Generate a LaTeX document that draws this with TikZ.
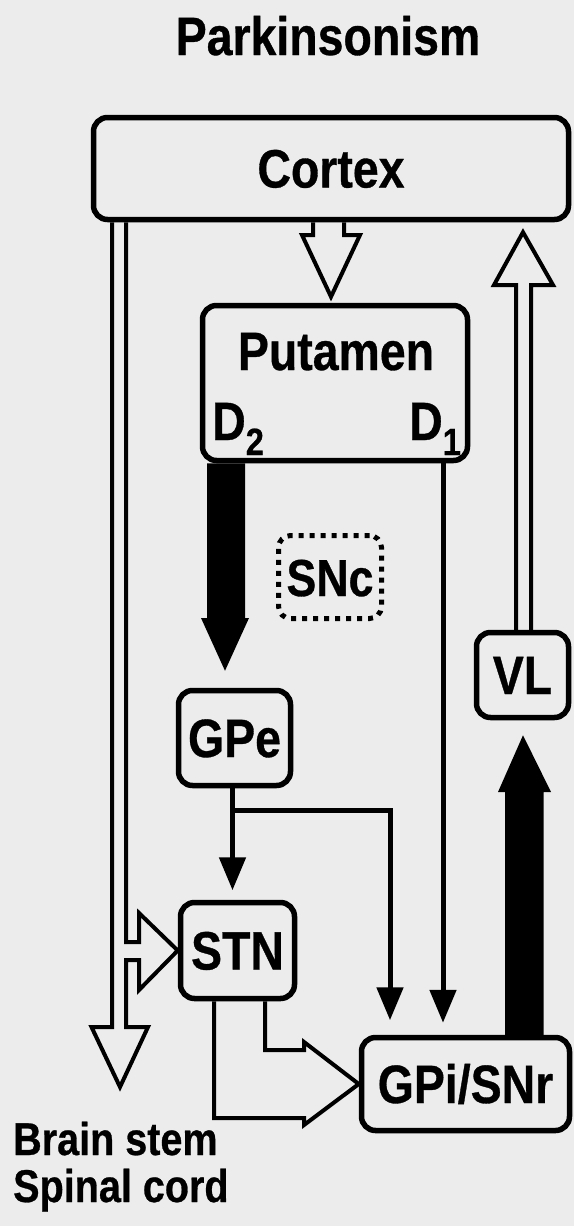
\documentclass[tikz,border=0pt]{standalone}
\usepackage{fontspec}
\setmainfont{Liberation Sans}[FakeStretch=0.86, BoldFeatures={FakeBold=0.6}]
\usetikzlibrary{positioning,calc,arrows.meta}
\definecolor{paper}{gray}{0.925}

\begin{document}
\begin{tikzpicture}[x=1pt, y=-1pt,
    region/.style={draw, line width=5.5pt, rounded corners=14pt, inner sep=0pt,
        font=\fontsize{54}{54}\selectfont\bfseries, text height=38pt, text depth=0pt},
    snbox/.style={region, line width=5pt, dash pattern=on 5pt off 6pt, rounded corners=12pt,
        font=\fontsize{52}{52}\selectfont\bfseries},
    lbl/.style={font=\fontsize{54}{54}\selectfont\bfseries, inner sep=0pt},
    outlbl/.style={font=\fontsize{46}{46}\selectfont\bfseries, inner sep=0pt, anchor=base west},
    hollow/.style={draw, line width=4pt, line join=miter},
    blackarrow/.style={fill=black},
    conn/.style={draw, line width=5pt, -{Triangle[length=33pt, width=26pt]}}]

    \path[use as bounding box, fill=paper] (0,0) rectangle (574,1226);

    % title and outputs
    \node[lbl, anchor=base] (title) at (328,55) {Parkinsonism};
    \node[outlbl] (brainstem) at (13,1155) {Brain stem};
    \node[outlbl] (spinalcord) at (13,1202) {Spinal cord};

    % nuclei
    \node[region, minimum width=475pt, minimum height=102pt] (cortex) at (331,168.5) {Cortex};
    \node[region, minimum width=265pt, minimum height=155pt] (putamen) at (335,383) {};
    \node[lbl, anchor=base] (putamenlbl) at (336,370) {Putamen};
    \node[lbl, anchor=base west] (dtwo) at (212,440) {D\raisebox{-15pt}{\fontsize{38}{38}\selectfont 2}};
    \node[lbl, anchor=base west] (done) at (409,440) {D\raisebox{-15pt}{\fontsize{38}{38}\selectfont 1}};
    \node[snbox, minimum width=103pt, minimum height=83pt] (snc) at (330,577) {SNc};
    \node[region, minimum width=112pt, minimum height=95pt] (gpe) at (234.5,738) {GPe};
    \node[region, minimum width=114pt, minimum height=96pt] (stn) at (237.5,950.5) {STN};
    \node[region, minimum width=92pt, minimum height=85pt] (vl) at (522.5,675) {VL};
    \node[region, minimum width=208pt, minimum height=93pt] (gpi) at (465.5,1084) {GPi/SNr};

    \coordinate (bstip) at (120,1087);
    \coordinate (gpefork) at (232.5,810);

    % open (excitatory) pathways
    \draw[hollow] (112,0 |- cortex.south) -- (112,1027) -- (91.5,1027) -- (bstip)
        -- (148,1027) -- (126,1027) -- (126,960) -- (139,960) -- (139,990)
        -- (stn.west) -- (139,913) -- (139,942) -- (126,942) -- (126,0 |- cortex.south);
    \draw[hollow] (313,0 |- cortex.south) -- (313,235) -- (302,235)
        -- ($(cortex.south |- putamen.north)+(0,-6)$) -- (360,235) -- (344,235) -- (344,0 |- cortex.south);
    \draw[hollow] (516,0 |- vl.north) -- (516,285) -- (494,285)
        -- ($(523,0 |- cortex.south)+(0,10)$) -- (553,285) -- (531,285) -- (531,0 |- vl.north);
    \draw[hollow] (214,0 |- stn.south) -- (214,1118) -- (304,1118) -- (304,1125)
        -- (gpi.west) -- (304,1042) -- (304,1050) -- (265,1050) -- (265,0 |- stn.south);

    % filled (enhanced) pathways
    \fill[blackarrow] (207,0 |- putamen.south) -- (207,618) -- (201,618)
        -- ($(225,0 |- gpe.north)+(0,-17)$) -- (249,618) -- (245,618) -- (245,0 |- putamen.south) -- cycle;
    \fill[blackarrow] (505,0 |- gpi.north) -- (505,792) -- (498,792)
        -- ($(523,0 |- vl.south)+(0,15)$) -- (551,792) -- (543.5,792) -- (543.5,0 |- gpi.north) -- cycle;

    % inhibitory pathways
    \draw[conn, shorten >=12pt] (443,0 |- putamen.south) -- (443,0 |- gpi.north);
    \draw[conn, shorten >=9.5pt] (232.5,0 |- gpe.south) -- (232.5,0 |- stn.north);
    \draw[conn, shorten >=14.5pt] (gpefork) -| (390,0 |- gpi.north);
\end{tikzpicture}
\end{document}
